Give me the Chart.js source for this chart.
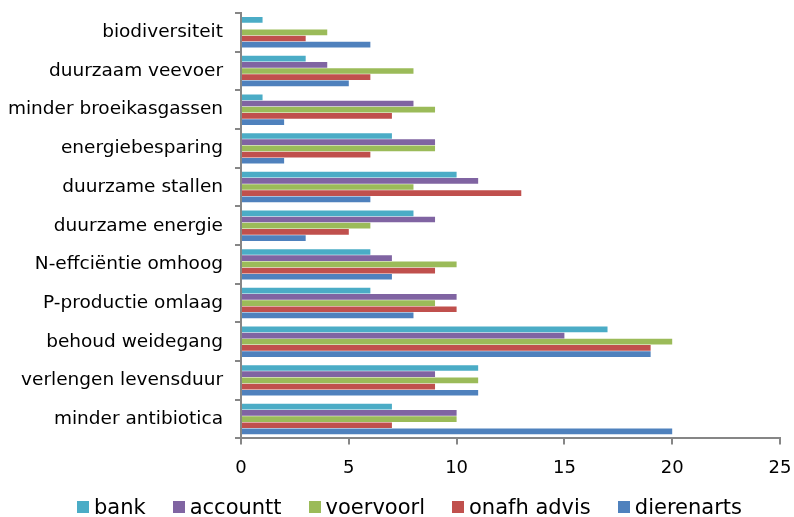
<!DOCTYPE html>
<html>
<head>
<meta charset="utf-8">
<script src="https://cdn.jsdelivr.net/npm/chart.js@4/dist/chart.umd.min.js"></script>
<style>
  html, body { margin: 0; padding: 0; background: #fff; }
  #wrap { position: relative; width: 794px; height: 517px; }
  #legend {
    position: absolute; left: 77px; top: 497px;
    font-family: 'DejaVu Sans', Verdana, sans-serif; font-size: 21px; line-height: 21px;
    white-space: nowrap; color: #000;
  }
  #legend span.item { margin-right: 27px; }
  #legend span.box {
    display: inline-block; width: 12px; height: 12px; margin-right: 5px; vertical-align: 1px;
  }
</style>
</head>
<body>
<div id="wrap">
  <canvas id="chart" width="794" height="517"></canvas>
  <div id="legend"></div>
</div>
<script>
const categories = [
  "biodiversiteit",
  "duurzaam veevoer",
  "minder broeikasgassen",
  "energiebesparing",
  "duurzame stallen",
  "duurzame energie",
  "N-effciëntie omhoog",
  "P-productie omlaag",
  "behoud weidegang",
  "verlengen levensduur",
  "minder antibiotica"
];

const seriesNames = ["bank", "accountt", "voervoorl", "onafh advis", "dierenarts"];
const seriesColors = ["#4BACC6", "#8064A2", "#9BBB59", "#C0504D", "#4F81BD"];

const bank       = [1, 3, 1, 7, 10, 8, 6, 6, 17, 11, 7];
const accountt   = [0, 4, 8, 9, 11, 9, 7, 10, 15, 9, 10];
const voervoorl  = [4, 8, 9, 9, 8, 6, 10, 9, 20, 11, 10];
const onafhAdvis = [3, 6, 7, 6, 13, 5, 9, 10, 19, 9, 7];
const dierenarts = [6, 5, 2, 2, 6, 3, 7, 8, 19, 11, 20];

const xTicks = [0, 5, 10, 15, 20, 25];

const font = "'DejaVu Sans', Verdana, sans-serif";
const axisColor = "#868686";

const values = [bank, accountt, voervoorl, onafhAdvis, dierenarts];

const datasets = values.map((data, i) => ({
  label: seriesNames[i],
  data: data,
  backgroundColor: seriesColors[i],
  borderWidth: 0,
  categoryPercentage: 0.8,
  barPercentage: 0.92
}));

const ctx = document.getElementById("chart");

new Chart(ctx, {
  type: "bar",
  data: { labels: categories, datasets: datasets },
  options: {
    indexAxis: "y",
    responsive: false,
    animation: false,
    layout: { padding: { top: 13, right: 2, left: 4, bottom: 25 } },
    plugins: {
      tooltip: { enabled: false },
      legend: { display: false }
    },
    scales: {
      x: {
        min: 0,
        max: 25,
        afterBuildTicks: (axis) => { axis.ticks = xTicks.map(v => ({ value: v })); },
        afterFit: (axis) => { axis.paddingLeft = 0; axis.paddingRight = 14; },
        border: { color: axisColor, width: 2 },
        grid: { drawOnChartArea: false, color: axisColor, tickLength: 6, lineWidth: 2 },
        ticks: { font: { family: font, size: 18 }, color: "#000", padding: 13 }
      },
      y: {
        afterFit: (axis) => { axis.width = 237; axis.paddingTop = 0; axis.paddingBottom = 0; },
        border: { color: axisColor, width: 2 },
        grid: { drawOnChartArea: false, color: axisColor, tickLength: 6, lineWidth: 2, offset: true },
        ticks: { font: { family: font, size: 18.5 }, color: "#000", padding: 12 }
      }
    }
  }
});

// legend
const legend = document.getElementById("legend");
seriesNames.forEach((name, i) => {
  const item = document.createElement("span");
  item.className = "item";
  const box = document.createElement("span");
  box.className = "box";
  box.style.background = seriesColors[i];
  item.appendChild(box);
  item.appendChild(document.createTextNode(name));
  legend.appendChild(item);
});
</script>
</body>
</html>
